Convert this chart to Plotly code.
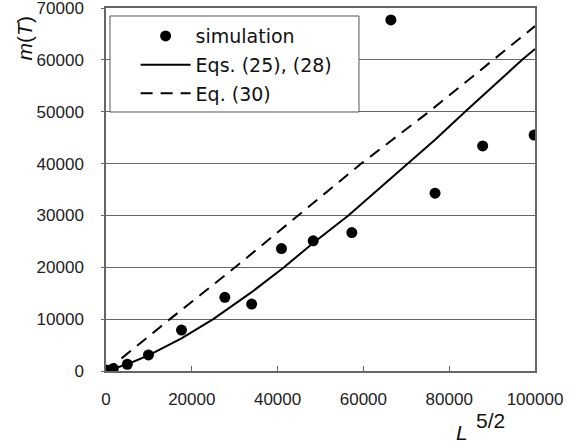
import plotly.graph_objects as go

# simulation data (x = L^{5/2}, y = m(T))
sim_x = [0, 1700, 4970, 9900, 17600, 27700, 33950, 40900, 48300, 57300, 66400, 76700, 87800, 99800]
sim_y = [200, 500, 1300, 3100, 7900, 14200, 12900, 23600, 25100, 26700, 67700, 34300, 43400, 45500]

# Eqs. (25), (28)
eq1_x = [0, 1700, 4970, 9900, 17600, 25000, 33950, 41500, 48300, 56500, 66400, 70500, 76700, 83700, 87800, 97000, 100000]
eq1_y = [0, 400, 1300, 3000, 6300, 10000, 15200, 20000, 24700, 30000, 37200, 40000, 44600, 50000, 53100, 60000, 62100]

# Eq. (30)
eq2_x = [0, 14900, 30100, 44800, 59500, 75300, 90300, 100000]
eq2_y = [0, 10000, 20000, 30000, 40000, 50000, 60000, 66500]

x_ticks = [0, 20000, 40000, 60000, 80000, 100000]
y_ticks = [0, 10000, 20000, 30000, 40000, 50000, 60000, 70000]

FONT = "Liberation Sans"
LFONT = "DejaVu Sans"

fig = go.Figure()
fig.add_trace(go.Scatter(x=sim_x, y=sim_y, mode="markers", name="simulation",
                         marker=dict(color="black", size=11), legendgroup="a"))
fig.add_trace(go.Scatter(x=eq1_x, y=eq1_y, mode="lines", name="Eqs. (25), (28)",
                         line=dict(color="black", width=2), legendgroup="b"))
fig.add_trace(go.Scatter(x=eq2_x, y=eq2_y, mode="lines", name="Eq. (30)",
                         line=dict(color="black", width=2, dash="12px,8px"), legendgroup="c"))

fig.update_layout(
    width=579, height=444,
    margin=dict(l=106, r=44, t=8, b=73, autoexpand=False),
    plot_bgcolor="white", paper_bgcolor="white",
    font=dict(family=FONT, size=17, color="#222"),
    showlegend=True,
    legend=dict(x=0.069, y=0.975, xanchor="left", yanchor="top",
                bgcolor="rgba(0,0,0,0)", borderwidth=0, itemwidth=50,
                font=dict(family=LFONT, size=19, color="#111"), tracegroupgap=1,
                traceorder="grouped"),
    shapes=[dict(type="rect", xref="paper", yref="paper",
                 x0=0.0093, x1=0.5897, y0=0.7135, y1=0.978,
                 line=dict(color="#555", width=1), fillcolor="white", layer="above")],
    annotations=[
        dict(text="<i>m</i>(<i>T</i>)", xref="paper", yref="paper", x=-0.189, y=0.916,
             xanchor="center", yanchor="middle",
             showarrow=False, textangle=-90, font=dict(size=21, color="#111")),
        dict(text="<i>L</i>", xref="paper", yref="paper", x=0.830, y=-0.170,
             xanchor="center", yanchor="middle",
             showarrow=False, font=dict(size=21, color="#111")),
        dict(text="5/2", xref="paper", yref="paper", x=0.897, y=-0.135,
             xanchor="center", yanchor="middle",
             showarrow=False, font=dict(size=21, color="#111")),
    ],
)
fig.update_xaxes(range=[0, 100000], tickvals=x_ticks, ticktext=[str(v) for v in x_ticks],
                 showgrid=False, zeroline=False, showline=True, mirror=True,
                 linecolor="#666", linewidth=1.5, ticks="inside", ticklen=5,
                 tickcolor="#666", ticklabelstandoff=12, automargin=False,
                 ticklabeloverflow="allow")
fig.update_yaxes(range=[0, 70000], tickvals=y_ticks, ticktext=[str(v) for v in y_ticks],
                 showgrid=True, gridcolor="#666", gridwidth=1, zeroline=False,
                 showline=True, mirror=True, linecolor="#666", linewidth=1.5,
                 ticks="outside", ticklen=3, tickcolor="#666", ticklabelstandoff=14,
                 automargin=False, ticklabeloverflow="allow")

fig.write_html("out.html")
